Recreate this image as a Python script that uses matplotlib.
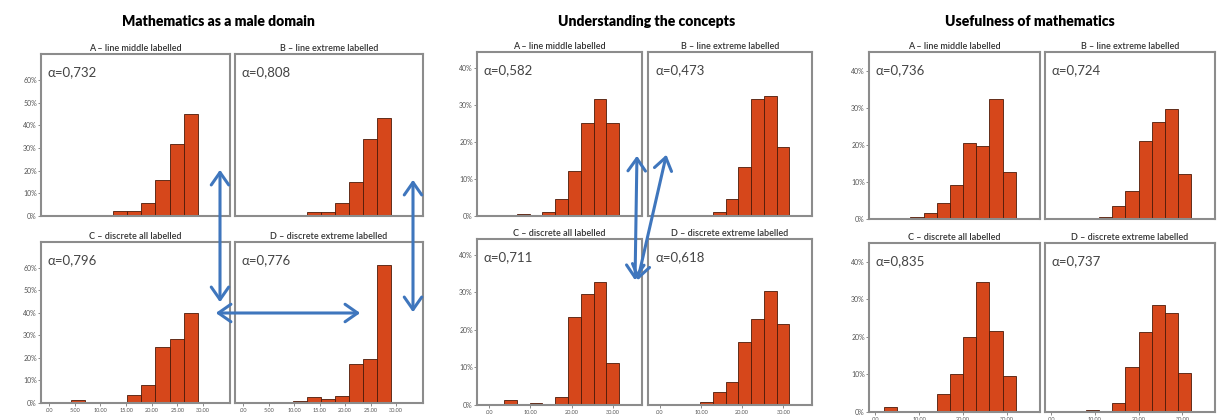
import matplotlib
matplotlib.use('Agg')
import matplotlib.pyplot as plt
from matplotlib.patches import FancyArrowPatch
from matplotlib.ticker import PercentFormatter

plt.rcParams['font.family'] = ['Lato', 'DejaVu Sans']

# Размер картинки в пикселях
W, H = 1217, 420

# --- Данные ---
scale_titles = ['Mathematics as a male domain', 'Understanding the concepts', 'Usefulness of mathematics']
panel_titles = ['A – line middle labelled', 'B – line extreme labelled',
                'C – discrete all labelled', 'D – discrete extreme labelled']

# Mathematics as a male domain
male_bins = [1.5, 4.25, 7.0, 9.75, 12.5, 15.25, 18.0, 20.75, 23.5, 26.25]
male_width = 2.75
male_alpha = ['0,732', '0,808', '0,796', '0,776']
male_A = [0, 0, 0.4, 0.4, 2.0, 2.0, 5.7, 15.9, 31.7, 45.0]
male_B = [0, 0.6, 0, 0.6, 1.8, 1.8, 5.7, 15.0, 34.0, 43.0]
male_C = [0, 1.2, 0, 0.4, 0.4, 3.6, 8.0, 25.0, 28.3, 40.0]
male_D = [0, 0, 0, 0.9, 2.7, 1.8, 3.1, 17.5, 19.5, 61.0]
male_ticks = [0, 5, 10, 15, 20, 25, 30]
male_ticklabels = ['.00', '5.00', '10.00', '15.00', '20.00', '25.00', '30.00']

# Understanding the concepts
underst_bins = [3.6, 6.7, 9.8, 12.9, 16.0, 19.1, 22.2, 25.3, 28.4]
underst_width = 3.1
underst_alpha = ['0,582', '0,473', '0,711', '0,618']
underst_A = [0, 0.6, 0, 1.2, 4.5, 12.0, 25.0, 31.5, 25.0]
underst_B = [0, 0, 0, 1.0, 4.5, 13.2, 31.5, 32.3, 18.5]
underst_C = [1.3, 0, 0.6, 0, 2.1, 23.3, 29.6, 32.8, 11.3]
underst_D = [0, 0, 0.8, 3.5, 6.2, 16.7, 22.8, 30.4, 21.5]

# Usefulness of mathematics
useful_bins = [2, 5, 8, 11, 14, 17, 20, 23, 26, 29]
useful_width = 3.0
useful_alpha = ['0,736', '0,724', '0,835', '0,737']
useful_A = [0, 0, 0.5, 1.6, 4.3, 9.2, 20.5, 19.7, 32.4, 12.7]
useful_B = [0, 0, 0, 0.6, 3.5, 7.6, 21.0, 26.2, 29.7, 12.2]
useful_C = [1.3, 0, 0, 0, 4.8, 10.0, 19.9, 34.7, 21.5, 9.5]
useful_D = [0, 0, 0.4, 0, 2.4, 12.0, 21.2, 28.6, 26.3, 10.3]

ticks_10 = [0, 10, 20, 30]
ticklabels_10 = ['.00', '10.00', '20.00', '30.00']

# --- Раскладка (пиксели: левый, верхний, правый, нижний край рамки) ---
groups = [
    dict(title=scale_titles[0], title_x=218, bins=male_bins, width=male_width,
         alpha=male_alpha, heights=[male_A, male_B, male_C, male_D],
         ticks=male_ticks, ticklabels=male_ticklabels, xlim=(-1.6, 35.3),
         ylim=71.4, yticks=[0, 10, 20, 30, 40, 50, 60],
         boxes=[(41, 54, 230, 216), (235, 54, 423, 216), (41, 242, 230, 403), (235, 242, 423, 403)]),
    dict(title=scale_titles[1], title_x=647, bins=underst_bins, width=underst_width,
         alpha=underst_alpha, heights=[underst_A, underst_B, underst_C, underst_D],
         ticks=ticks_10, ticklabels=ticklabels_10, xlim=(-2.9, 37.0),
         ylim=44.2, yticks=[0, 10, 20, 30, 40],
         boxes=[(477, 52, 642, 216), (648, 52, 812, 216), (477, 239, 642, 405), (648, 239, 812, 405)]),
    dict(title=scale_titles[2], title_x=1030, bins=useful_bins, width=useful_width,
         alpha=useful_alpha, heights=[useful_A, useful_B, useful_C, useful_D],
         ticks=ticks_10, ticklabels=ticklabels_10, xlim=(-1.4, 37.5),
         ylim=45.0, yticks=[0, 10, 20, 30, 40],
         boxes=[(869, 52, 1040, 219), (1045, 52, 1215, 219), (869, 243, 1040, 412), (1045, 243, 1215, 412)]),
]

bar_color = '#d6471b'
edge_color = '#4d1a08'
frame_color = '#8c8c8c'
text_gray = '#444444'

fig = plt.figure(figsize=(W / 100, H / 100), dpi=100)


def px_axes(box):
    l, t, r, b = box
    return fig.add_axes([l / W, 1 - b / H, (r - l) / W, (b - t) / H])


for g in groups:
    fig.text(g['title_x'] / W, 1 - 21 / H, g['title'], ha='center', va='center',
             fontsize=10, fontweight='heavy', color='black')
    for i, box in enumerate(g['boxes']):
        ax = px_axes(box)
        ax.bar(g['bins'], g['heights'][i], width=g['width'], align='edge',
               color=bar_color, edgecolor=edge_color, linewidth=0.6)
        ax.set_xlim(*g['xlim'])
        ax.set_ylim(0, g['ylim'])
        for s in ax.spines.values():
            s.set_color(frame_color)
            s.set_linewidth(1.5)
        ax.set_title(panel_titles[i], fontsize=6.5, pad=2.5, color='#333333', fontweight='semibold')
        ax.annotate('α=' + g['alpha'][i], xy=(0, 1), xycoords='axes fraction',
                    xytext=(7, -12), textcoords='offset pixels', ha='left', va='top',
                    fontsize=9.5, color=text_gray)

        # ось Y подписана только у левых графиков
        if i % 2 == 0:
            ax.set_yticks(g['yticks'])
            ax.yaxis.set_major_formatter(PercentFormatter(xmax=100, decimals=0))
            ax.tick_params(axis='y', length=2, width=0.6, color='#777777',
                           labelsize=5, labelcolor='#555555', pad=1)
        else:
            ax.set_yticks([])

        # ось X подписана только у нижних графиков
        if i >= 2:
            ax.set_xticks(g['ticks'])
            ax.set_xticklabels(g['ticklabels'])
            ax.tick_params(axis='x', length=2, width=0.6, color='#777777',
                           labelsize=4, labelcolor='#555555', pad=1.5)
        else:
            ax.set_xticks([])

# --- Стрелки ---
arrow_color = '#3f76bd'
arrows = [
    ((220, 167), (220, 305)),
    ((413, 177), (413, 315)),
    ((213, 313), (363, 313)),
    ((637, 153), (635, 283)),
    ((667, 152), (637, 283)),
]
for (x1, y1), (x2, y2) in arrows:
    fig.add_artist(FancyArrowPatch((x1 / W, 1 - y1 / H), (x2 / W, 1 - y2 / H),
                                   transform=fig.transFigure, arrowstyle='<->,head_length=5,head_width=3.5',
                                   color=arrow_color, linewidth=2.2, mutation_scale=1.8))

fig.savefig('out.png', dpi=100)
